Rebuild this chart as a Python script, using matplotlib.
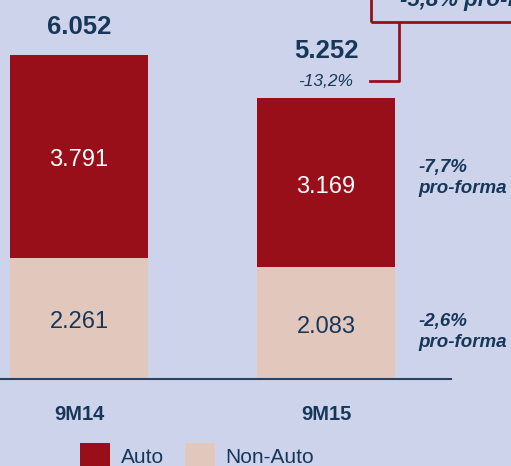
import matplotlib.pyplot as plt
from matplotlib.patches import Rectangle

plt.rcParams['font.family'] = ['Liberation Sans', 'DejaVu Sans']

# data
periods = ['9M14', '9M15']
auto = [3791, 3169]
non_auto = [2261, 2083]
totals = ['6.052', '5.252']
auto_labels = ['3.791', '3.169']
non_auto_labels = ['2.261', '2.083']
total_change = '-13,2%'
auto_change = '-7,7%\npro-forma'
non_auto_change = '-2,6%\npro-forma'
box_text = '-5,8% pro-forma'

BG = '#CDD3EA'
RED = '#990F19'
SAND = '#E2C7BD'
NAVY = '#17375A'

# pixel helpers (reference is 511x466, baseline at y=379, 247px between bars)
PX_PER_UNIT = 324 / 6052


def px_x(px):
    return (px - 79) / 247


def px_y(py):
    return (379 - py) / PX_PER_UNIT


fig = plt.figure(figsize=(5.11, 4.66), dpi=100)
fig.patch.set_facecolor(BG)
ax = fig.add_axes([0, 0, 1, 1])
ax.set_facecolor(BG)
ax.set_xlim(px_x(0), px_x(511))
ax.set_ylim(px_y(466), px_y(0))
ax.axis('off')

x = range(len(periods))
w = 138 / 247
ax.bar(x, non_auto, width=w, color=SAND, label='Non-Auto', zorder=2)
ax.bar(x, auto, width=w, bottom=non_auto, color=RED, label='Auto', zorder=2)
ax.plot([px_x(0), px_x(451)], [0, 0], color='#2A4262', lw=1.5, zorder=3)

# small downward nudge so the digits (not the descender box) sit centred
nudge = 4 / PX_PER_UNIT
# total labels sit higher above the 9M15 bar to leave room for the change label
total_y = [px_y(27), px_y(51)]
for i in x:
    ax.text(i, total_y[i], totals[i], ha='center', va='center', fontsize=18.5,
            fontweight='bold', color=NAVY)
    ax.text(i, non_auto[i] + auto[i] / 2 - nudge, auto_labels[i], ha='center',
            va='center', fontsize=17, color='white')
    ax.text(i, non_auto[i] / 2 - nudge, non_auto_labels[i], ha='center',
            va='center', fontsize=17, color=NAVY)
    ax.text(i, px_y(415), periods[i], ha='center', va='center', fontsize=14.5,
            fontweight='bold', color=NAVY)

ax.text(1, px_y(82), total_change, ha='center', va='center', fontsize=12.5,
        style='italic', color=NAVY)
ax.text(px_x(418), px_y(178), auto_change, ha='left', va='center', fontsize=13.5,
        style='italic', fontweight='bold', color=NAVY, linespacing=1.3)
ax.text(px_x(418), px_y(332), non_auto_change, ha='left', va='center', fontsize=13.5,
        style='italic', fontweight='bold', color=NAVY, linespacing=1.3)

# connector and top box
ax.plot([px_x(370), px_x(399), px_x(399)], [px_y(81), px_y(81), px_y(24)],
        color=RED, lw=2, zorder=3)
ax.add_patch(Rectangle((px_x(371), px_y(22)), px_x(560) - px_x(371),
                       px_y(-30) - px_y(22), fill=False, edgecolor=RED, lw=2,
                       clip_on=True))
ax.text(px_x(400), px_y(6), box_text, ha='left', va='baseline', fontsize=16,
        style='italic', fontweight='bold', color=NAVY)

handles, labels = ax.get_legend_handles_labels()
fig.legend(handles[::-1], labels[::-1], loc='lower left',
           bbox_to_anchor=(80 / 511, -2 / 466), ncol=2, frameon=False,
           fontsize=15, handlelength=1.45, handleheight=1.45, handletextpad=0.5,
           columnspacing=1.0, borderpad=0, borderaxespad=0,
           labelcolor=NAVY)

fig.savefig('out.png', dpi=100, facecolor=BG)
